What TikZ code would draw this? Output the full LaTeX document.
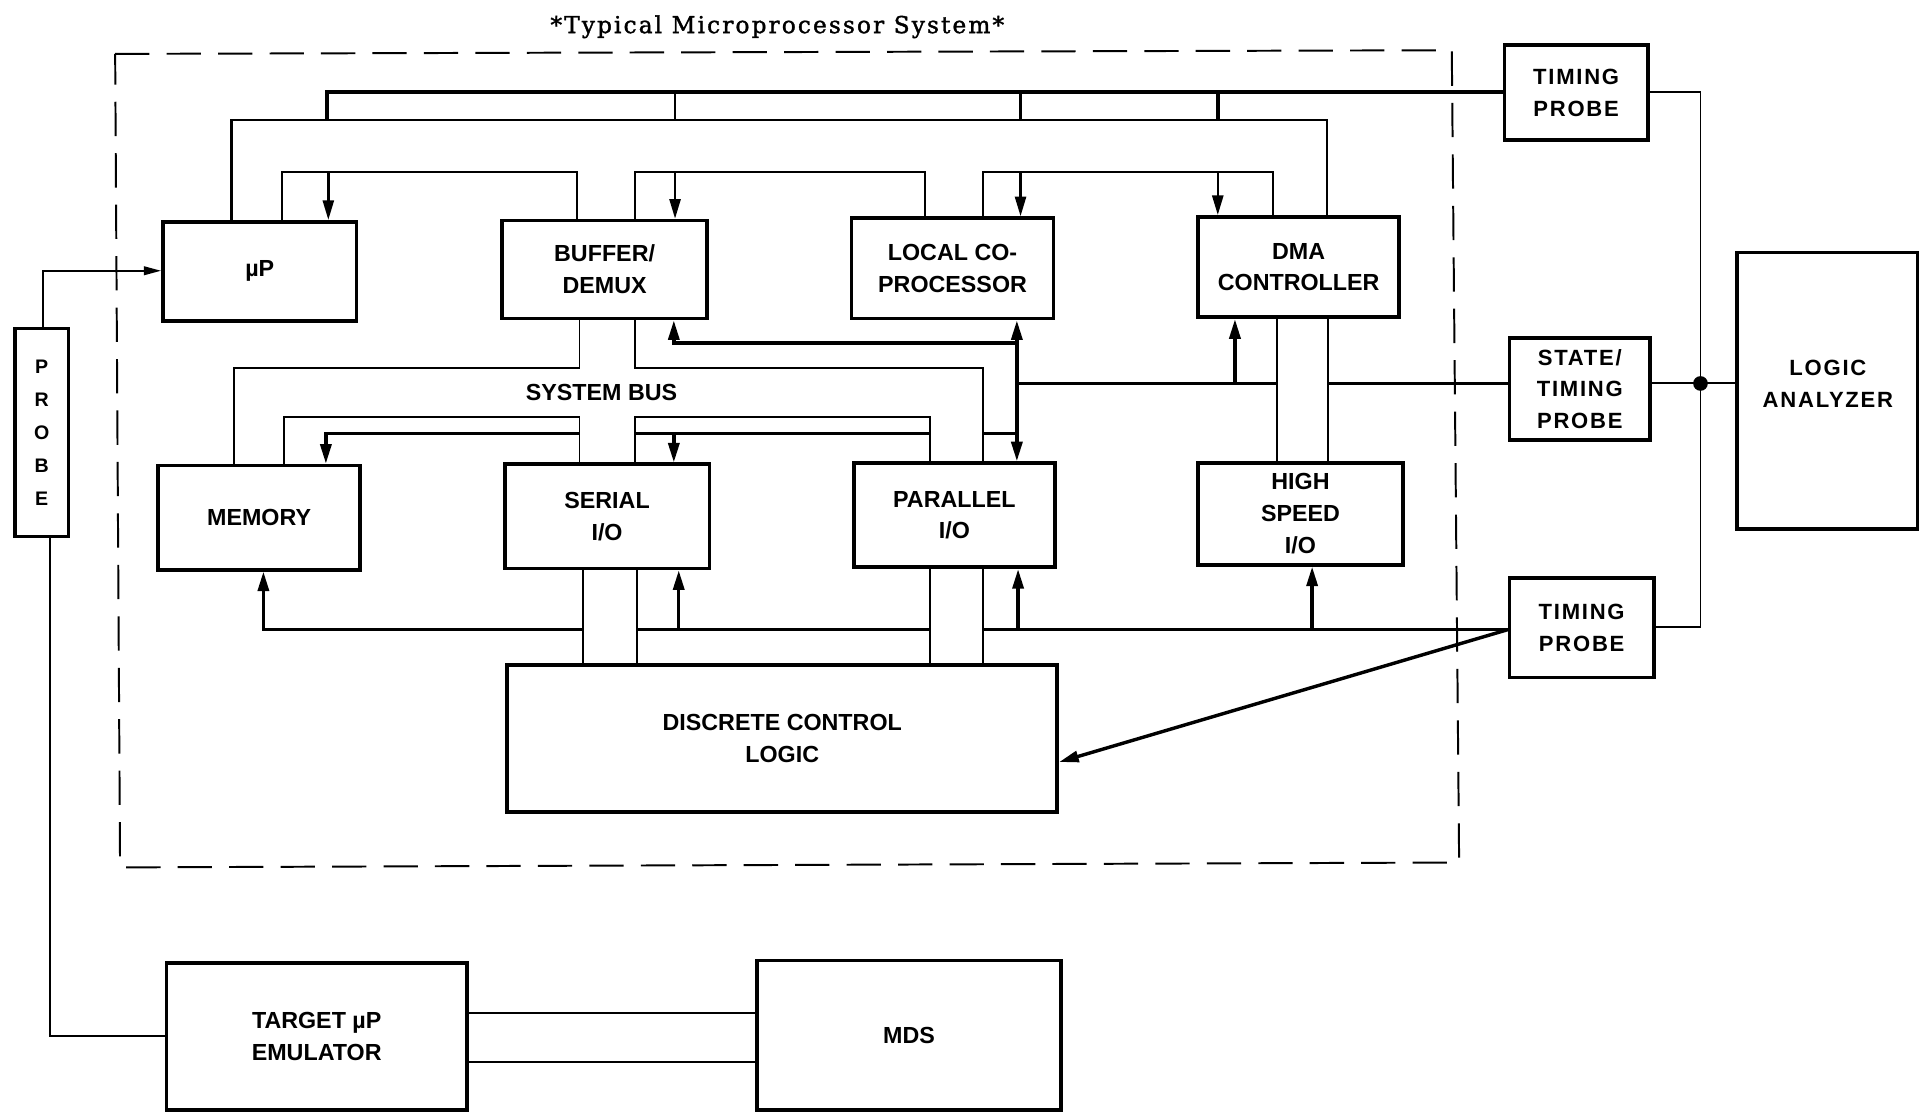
\documentclass[tikz,border=0pt]{standalone}
\usepackage{fontspec}
\usetikzlibrary{arrows.meta}
\newfontfamily\boxfont{Liberation Sans}
\newfontfamily\spfont{Liberation Sans}[LetterSpace=8]
\newfontfamily\titlefont{DejaVu Serif}[LetterSpace=9, FakeBold=1.5]
\tikzset{
  box/.style={draw, line width=3pt, inner sep=0pt, align=center,
    font=\boxfont\bfseries\fontsize{19}{26}\selectfont},
  spbox/.style={box, font=\spfont\bfseries\fontsize{18}{26}\selectfont},
  thinl/.style={line width=1.6pt},
  medl/.style={line width=2pt},
  thickl/.style={line width=2.8pt},
  arrowend/.style={-{Triangle[length=16pt,width=9pt]}},
  arrowboth/.style={{Triangle[length=16pt,width=9pt]}-{Triangle[length=16pt,width=9pt]}},
  border/.style={line width=1.6pt, dash pattern=on 28pt off 14pt},
}
\begin{document}
\begin{tikzpicture}[x=1pt,y=-1pt]
\useasboundingbox (0,0) rectangle (1568,908);

% title
\node[font=\titlefont\fontsize{19}{22}\selectfont, anchor=base, inner sep=0pt] (title) at (634.5,27) {*Typical Microprocessor System*};

% system boundary
\draw[border] (94,44) -- (1185,41) -- (1191,704) -- (98,708) -- cycle;

% boxes
\node[box, minimum width=158, minimum height=81] (up)  at (212,221.5) {µP};
\node[box, minimum width=167, minimum height=80] (buf) at (493.5,220) {BUFFER/\\DEMUX};
\node[box, minimum width=165, minimum height=82] (lcp) at (777.5,219) {LOCAL CO-\\PROCESSOR};
\node[box, minimum width=164, minimum height=82] (dma) at (1060,218) {DMA\\CONTROLLER};
\node[box, minimum width=165, minimum height=85] (mem) at (211.5,422.5) {MEMORY};
\node[box, minimum width=167, minimum height=85] (ser) at (495.5,421.5) {SERIAL\\I/O};
\node[box, minimum width=164, minimum height=85] (par) at (779,420.5) {PARALLEL\\I/O};
\node[box, minimum width=167, minimum height=83] (hs)  at (1061.5,419.5) {HIGH\\SPEED\\I/O};
\node[box, minimum width=449, minimum height=120] (dcl) at (638.5,603) {DISCRETE CONTROL\\LOGIC};
\node[spbox, minimum width=117, minimum height=77] (tp1) at (1286.5,75.5) {TIMING\\PROBE};
\node[spbox, minimum width=115, minimum height=83] (stp) at (1289.5,317.5) {STATE/\\TIMING\\PROBE};
\node[spbox, minimum width=118, minimum height=81] (tp2) at (1291,512.5) {TIMING\\PROBE};
\node[box, minimum width=147, minimum height=226] (la) at (1491.5,319) {};
\node[font=\spfont\bfseries\fontsize{18}{26}\selectfont, align=center, inner sep=0pt] (lat) at (1492,313) {LOGIC\\ANALYZER};
\node[box, minimum width=44, minimum height=170, font=\boxfont\bfseries\fontsize{16}{27}\selectfont] (probe) at (34,353) {P\\R\\O\\B\\E};
\node[box, minimum width=245, minimum height=120] (tgt) at (258.5,846) {TARGET µP\\EMULATOR};
\node[box, minimum width=248, minimum height=122] (mds) at (742,845) {MDS};

\node[font=\boxfont\bfseries\fontsize{19}{26}\selectfont, inner sep=0pt] (sysbus) at (491,320) {SYSTEM BUS};

% ---------- top buses ----------
\coordinate (a1) at (189,98);
\coordinate (a2) at (1083,98);
\draw[medl] (up.north -| a1) -- (a1) -- (a2) -- (dma.north -| a2);

\coordinate (b1) at (267,98);
\coordinate (b2) at (267,75);
\draw[thickl] (b1) -- (b2) -- (tp1.west |- b2);
\coordinate (b3) at (551,75);  \coordinate (b4) at (551,98);
\draw[medl] (b3) -- (b4);
\coordinate (b5) at (833,75);  \coordinate (b6) at (833,98);
\draw[thickl] (b5) -- (b6);
\coordinate (b7) at (994,75);  \coordinate (b8) at (994,98);
\draw[thickl] (b7) -- (b8);

\coordinate (c1) at (230,140);  \coordinate (c2) at (471,140);
\draw[thinl] (up.north -| c1) -- (c1) -- (c2) -- (buf.north -| c2);
\coordinate (c3) at (268,140);
\draw[medl, arrowend] (c3) -- (up.north -| c3);
\coordinate (c4) at (518,140);  \coordinate (c5) at (755,140);
\draw[thinl] (buf.north -| c4) -- (c4) -- (c5) -- (lcp.north -| c5);
\coordinate (c6) at (551,140);
\draw[medl, arrowend] (c6) -- (buf.north -| c6);
\coordinate (c7) at (802,140);  \coordinate (c8) at (1039,140);
\draw[thinl] (lcp.north -| c7) -- (c7) -- (c8) -- (dma.north -| c8);
\coordinate (c9) at (833,140);
\draw[medl, arrowend] (c9) -- (lcp.north -| c9);
\coordinate (c10) at (994,140);
\draw[medl, arrowend] (c10) -- (dma.north -| c10);

% ---------- system bus ----------
\coordinate (d1) at (473,300);  \coordinate (d2) at (191,300);
\draw[thinl] (buf.south -| d1) -- (d1) -- (d2) -- (mem.north -| d2);
\coordinate (d3) at (518,300);  \coordinate (d4) at (802,300);
\draw[thinl] (buf.south -| d3) -- (d3) -- (d4) -- (par.north -| d4);
\coordinate (e1) at (232,340);  \coordinate (e2) at (473,340);
\draw[thinl] (mem.north -| e1) -- (e1) -- (e2) -- (ser.north -| e2);
\coordinate (e3) at (518,340);  \coordinate (e4) at (759,340);
\draw[thinl] (ser.north -| e3) -- (e3) -- (e4) -- (par.north -| e4);

\coordinate (f1) at (266,354);  \coordinate (f2) at (473,354);
\draw[thickl, arrowend] (f2) -- (f1) -- (mem.north -| f1);
\coordinate (f3) at (518,354);  \coordinate (f4) at (759,354);
\draw[thickl] (f3) -- (f4);
\coordinate (f5) at (550,354);
\draw[thickl, arrowend] (f5) -- (ser.north -| f5);
\coordinate (f6) at (802,354);  \coordinate (f7) at (830,354);
\draw[thickl] (f6) -- (f7);

\coordinate (g1) at (830,300);
\draw[thickl, arrowboth] (lcp.south -| g1) -- (par.north -| g1);

\coordinate (h1) at (550,280);  \coordinate (h2) at (830,280);
\draw[thickl, arrowend] (h2) -- (h1) -- (buf.south -| h1);

\coordinate (i1) at (830,313);  \coordinate (i2) at (1042,313);
\coordinate (i3) at (1084,313); \coordinate (i4) at (1008,313);
\draw[thickl] (i1) -- (i2);
\draw[thickl] (i3) -- (stp.west |- i3);
\draw[thickl, arrowend] (i4) -- (dma.south -| i4);
\draw[thinl] (dma.south -| i2) -- (hs.north -| i2);
\draw[thinl] (dma.south -| i3) -- (hs.north -| i3);

% ---------- control bus ----------
\coordinate (k1) at (215,514);  \coordinate (k2) at (476,514);
\draw[thickl, arrowend] (k2) -- (k1) -- (mem.south -| k1);
\coordinate (k3) at (520,514);  \coordinate (k4) at (759,514);
\draw[thickl] (k3) -- (k4);
\coordinate (k5) at (554,514);
\draw[thickl, arrowend] (k5) -- (ser.south -| k5);
\coordinate (k6) at (802,514);
\draw[thickl] (k6) -- (tp2.west |- k6);
\coordinate (k7) at (831,514);
\draw[thickl, arrowend] (k7) -- (par.south -| k7);
\coordinate (k8) at (1071,514);
\draw[thickl, arrowend] (k8) -- (hs.south -| k8);
\draw[thinl] (ser.south -| k2) -- (dcl.north -| k2);
\draw[thinl] (ser.south -| k3) -- (dcl.north -| k3);
\draw[thinl] (par.south -| k4) -- (dcl.north -| k4);
\draw[thinl] (par.south -| k6) -- (dcl.north -| k6);
\coordinate (l1) at (864,622);
\draw[thickl, arrowend] (tp2.west |- k6) -- (dcl.east |- l1);

% ---------- logic analyzer ----------
\coordinate (r1) at (1388,75);
\coordinate (r2) at (1388,512);
\coordinate (r3) at (1388,313);
\draw[thinl] (tp1.east |- r1) -- (r1) -- (r2) -- (tp2.east |- r2);
\draw[thinl] (stp.east |- r3) -- (la.west |- r3);
\fill (r3) circle (6);

% ---------- probe / emulator ----------
\coordinate (p1) at (35,221);
\draw[thinl, -{Triangle[length=14pt,width=7pt]}] (probe.north -| p1) -- (p1) -- (up.west |- p1);
\coordinate (p2) at (41,846);
\draw[thinl] (probe.south -| p2) -- (p2) -- (tgt.west |- p2);
\coordinate (q1) at (500,827);  \coordinate (q2) at (500,867);
\draw[medl] (tgt.east |- q1) -- (mds.west |- q1);
\draw[medl] (tgt.east |- q2) -- (mds.west |- q2);
\end{tikzpicture}
\end{document}
